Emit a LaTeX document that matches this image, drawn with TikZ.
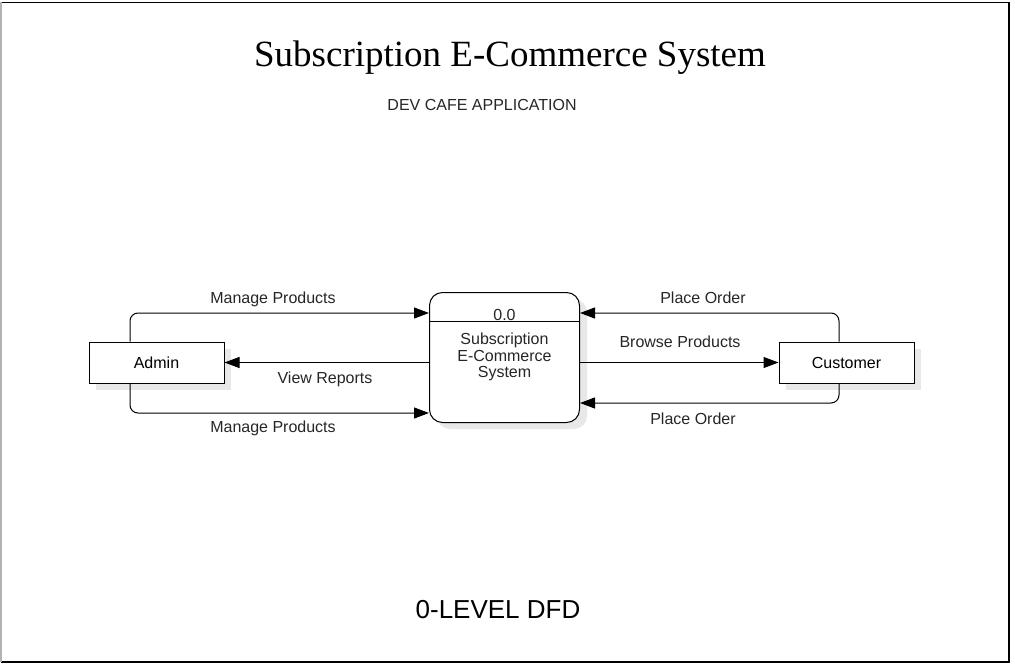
\documentclass[tikz,border=0pt]{standalone}
\usepackage{fontspec}
\setmainfont{Liberation Sans}
\newfontfamily\titlefont{Liberation Serif}
\usetikzlibrary{arrows.meta}
\tikzset{
  entity/.style={draw, line width=1pt, minimum width=135pt, minimum height=41pt, fill=white, font=\fontsize{16}{19}\selectfont},
  procbox/.style={draw, line width=1pt, rounded corners=13pt, minimum width=150pt, minimum height=130pt, fill=white},
  flow/.style={draw, line width=1pt, rounded corners=8pt, -{Triangle[length=15pt,width=11pt]}},
  lbl/.style={font=\fontsize{16}{19}\selectfont, text=black!85},
  shade/.style={fill=black!9, draw=none},
}
\begin{document}
\begin{tikzpicture}[x=1pt,y=-1pt]
    \useasboundingbox (0,0) rectangle (1015,666);
    %%frame
    \draw[line width=1.3pt] (1,2.5) -- (1009,2.5) -- (1009,662) -- (1,662);
    \draw[black!30, line width=1.3pt] (1,2.5) -- (1,662);

    %%shadows
    \fill[shade] (96,349) rectangle (231,390);
    \fill[shade, rounded corners=13pt] (437,299) rectangle (587,429);
    \fill[shade] (786,349) rectangle (921,390);

    %%draw the entities and the process
    \node[entity] (admin) at (156.5,362.5){Admin};
    \node[procbox] (proc) at (504.5,357.5){};
    \node[entity] (cust) at (846.5,362.5){Customer};
        \draw[line width=1pt] ([yshift=-29pt]proc.north west) to ([yshift=-29pt]proc.north east);
        \node[lbl] (pnum) at (504.5,315){0.0};
        \node[lbl, align=center, font=\fontsize{16}{16.5}\selectfont] (pname) at (504.5,357){Subscription\\E-Commerce\\System};

    %%draw the flows
    \draw[flow] ([xshift=-26.5pt]admin.north) |- ([yshift=-21pt]proc.north west);
    \draw[flow] (proc.west |- admin.east) to (admin.east);
    \draw[flow] ([xshift=-26.5pt]admin.south) |- ([yshift=10pt]proc.south west);
    \draw[flow] ([xshift=-7.5pt]cust.north) |- ([yshift=-21pt]proc.north east);
    \draw[flow] (proc.east |- cust.west) to (cust.west);
    \draw[flow] ([xshift=-7.5pt]cust.south) |- ([yshift=20pt]proc.south east);

    %%flow labels
    \node[lbl] (mp1) at (273,299){Manage Products};
    \node[lbl] (vr) at (325,379){View Reports};
    \node[lbl] (mp2) at (273,428){Manage Products};
    \node[lbl] (po1) at (703,298){Place Order};
    \node[lbl] (bp) at (680,342){Browse Products};
    \node[lbl] (po2) at (693,419){Place Order};

    %%titles
    \node[font=\titlefont\fontsize{37}{40}\selectfont] (title) at (510,58){Subscription E-Commerce System};
    \node[lbl] (app) at (482,105){DEV CAFE APPLICATION};
    \node[font=\fontsize{26}{30}\selectfont] (level) at (498,610){0-LEVEL DFD};
\end{tikzpicture}
\end{document}
